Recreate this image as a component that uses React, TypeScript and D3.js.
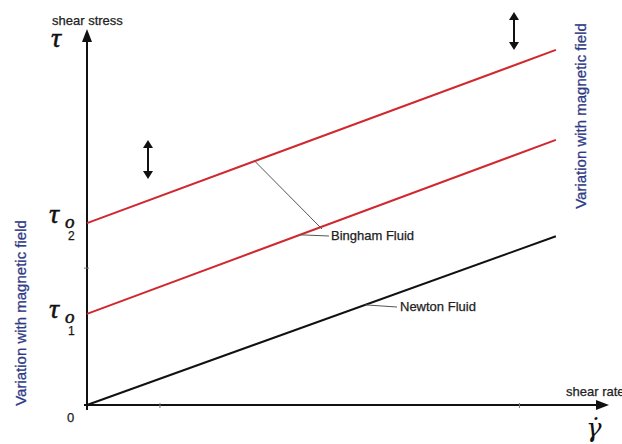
import React from "react";
import * as d3 from "d3";

// ---- data (schematic values) ----
const shearRate = [0, 90];
const newtonStress = [0, 45];
const bingham1Stress = [24.3, 70.7];
const bingham2Stress = [48.5, 94.7];
const xTicks = [14, 83];
const yTicks = [36.5];
const binghamLeaderUpperX = 32.2;
const binghamLeaderLowerX = 40.9;
const newtonLeaderX = 53.4;

const W = 622;
const H = 444;
const x = d3.scaleLinear().domain([0, 100]).range([87, 608]);
const y = d3.scaleLinear().domain([0, 100]).range([405, 30]);

const lineGen = d3
  .line<[number, number]>()
  .x((d) => x(d[0]))
  .y((d) => y(d[1]));

const series = (vals: number[]) => shearRate.map((r, i) => [r, vals[i]] as [number, number]);
const interp = (vals: number[], r: number) =>
  vals[0] + ((vals[1] - vals[0]) * (r - shearRate[0])) / (shearRate[1] - shearRate[0]);

const RED = "#d0282e";
const BLUE = "#2f3b86";
const SANS = "'Liberation Sans', Arial, sans-serif";
const SERIF = "'Liberation Serif', 'Times New Roman', serif";

function DoubleArrow({ cx, y1, y2 }: { cx: number; y1: number; y2: number }) {
  const h = 8;
  const w = 5;
  return (
    <g>
      <line x1={cx} x2={cx} y1={y1 + h - 1} y2={y2 - h + 1} stroke="#111" strokeWidth={2} />
      <path d={`M${cx},${y1} L${cx - w},${y1 + h} L${cx + w},${y1 + h} Z`} fill="#111" />
      <path d={`M${cx},${y2} L${cx - w},${y2 - h} L${cx + w},${y2 - h} Z`} fill="#111" />
    </g>
  );
}

export default function App() {
  const x0 = x(0);
  const y0 = y(0);
  const upperPt = [x(binghamLeaderUpperX), y(interp(bingham2Stress, binghamLeaderUpperX))];
  const lowerPt = [x(binghamLeaderLowerX), y(interp(bingham1Stress, binghamLeaderLowerX))];
  const newtonPt = [x(newtonLeaderX), y(interp(newtonStress, newtonLeaderX))];
  const labelStroke = { stroke: "#222", strokeWidth: 0.25 };
  const tauStroke = { stroke: "#111", strokeWidth: 0.5 };
  return (
    <svg
      width={W}
      height={H}
      style={{ position: "absolute", left: 0, top: 0, background: "#fff" }}
      fontFamily={SANS}
    >
      <rect width={W} height={H} fill="#fff" />
      {/* axes */}
      <line x1={x0 - 3} x2={x(100) - 10} y1={y0} y2={y0} stroke="#111" strokeWidth={2} />
      <line x1={x0} x2={x0} y1={y0 + 5} y2={y(100) + 10} stroke="#111" strokeWidth={2} />
      <path d={`M${x0},${y(100) - 1} L${x0 - 5},${y(100) + 12} L${x0 + 5},${y(100) + 12} Z`} fill="#111" />
      <path d={`M${x(100) + 1},${y0} L${x(100) - 12},${y0 - 5} L${x(100) - 12},${y0 + 5} Z`} fill="#111" />
      {xTicks.map((t) => (
        <line key={"xt" + t} x1={x(t)} x2={x(t)} y1={y0 - 2} y2={y0 + 3} stroke="#777" strokeWidth={1} />
      ))}
      {yTicks.map((t) => (
        <line key={"yt" + t} x1={x0 - 3} x2={x0 + 2} y1={y(t)} y2={y(t)} stroke="#777" strokeWidth={1} />
      ))}

      {/* lines */}
      <path d={lineGen(series(newtonStress)) || ""} stroke="#111" strokeWidth={2} fill="none" />
      <path d={lineGen(series(bingham1Stress)) || ""} stroke={RED} strokeWidth={2} fill="none" />
      <path d={lineGen(series(bingham2Stress)) || ""} stroke={RED} strokeWidth={2} fill="none" />

      {/* leaders */}
      <line x1={upperPt[0]} y1={upperPt[1]} x2={322} y2={229} stroke="#555" strokeWidth={1} />
      <line x1={lowerPt[0]} y1={lowerPt[1]} x2={329} y2={236} stroke="#555" strokeWidth={1} />
      <line x1={newtonPt[0]} y1={newtonPt[1]} x2={397} y2={307} stroke="#555" strokeWidth={1} />

      <text x={331} y={240} fontSize={13} fill="#222" {...labelStroke}>Bingham Fluid</text>
      <text x={400} y={311} fontSize={13} fill="#222" {...labelStroke}>Newton Fluid</text>

      {/* axis labels */}
      <text x={52} y={25} fontSize={13} fill="#222" {...labelStroke}>shear stress</text>
      <text x={566} y={396} fontSize={13} fill="#222" {...labelStroke}>shear rate</text>
      <text x={67} y={422} fontSize={13} fill="#222" {...labelStroke}>0</text>

      <text x={51} y={47} fontSize={28} fontStyle="italic" fontFamily={SERIF} fill="#111" {...tauStroke}>τ</text>
      <text x={586} y={437} fontSize={26} fontStyle="italic" fontFamily="'DejaVu Serif', serif" fill="#111">γ̇</text>

      {/* tau_o2 */}
      <g fill="#111">
        <text x={49} y={223} fontSize={28} fontStyle="italic" fontFamily={SERIF} {...tauStroke}>τ</text>
        <text x={65} y={228} fontSize={19} fontStyle="italic" fontFamily={SERIF} {...tauStroke}>o</text>
        <text x={68} y={240} fontSize={12} {...labelStroke}>2</text>
      </g>
      {/* tau_o1 */}
      <g fill="#111">
        <text x={49} y={318} fontSize={28} fontStyle="italic" fontFamily={SERIF} {...tauStroke}>τ</text>
        <text x={65} y={323} fontSize={19} fontStyle="italic" fontFamily={SERIF} {...tauStroke}>o</text>
        <text x={68} y={335} fontSize={12} {...labelStroke}>1</text>
      </g>

      {/* arrows */}
      <DoubleArrow cx={148} y1={140} y2={179} />
      <DoubleArrow cx={514} y1={12} y2={50} />

      {/* vertical labels */}
      <text transform="translate(26,313) rotate(-90)" textAnchor="middle" fontSize={15} fill={BLUE} stroke={BLUE} strokeWidth={0.3}>
        Variation with magnetic field
      </text>
      <text transform="translate(586,116) rotate(-90)" textAnchor="middle" fontSize={15} fill={BLUE} stroke={BLUE} strokeWidth={0.3}>
        Variation with magnetic field
      </text>
    </svg>
  );
}
